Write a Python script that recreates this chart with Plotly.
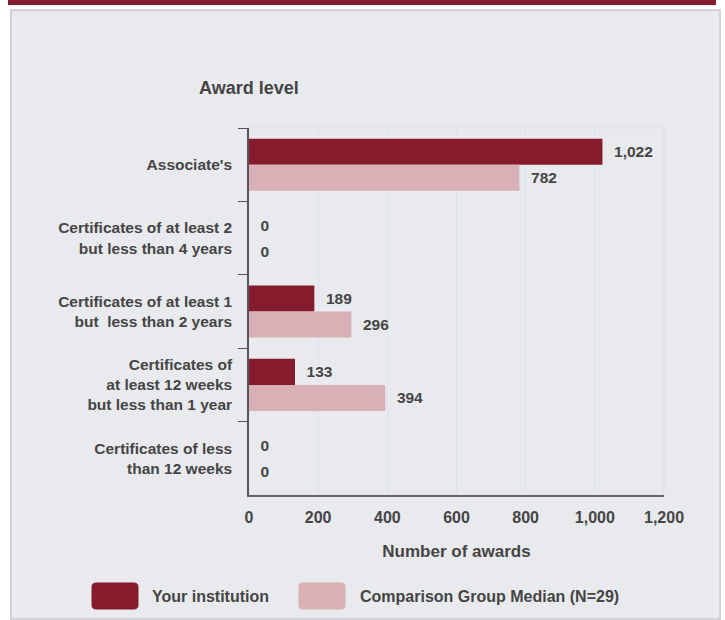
import plotly.graph_objects as go

AWARD_LEVELS = [
    "Associate's",
    "Certificates of at least 2<br>but less than 4 years",
    "Certificates of at least 1<br>but  less than 2 years",
    "Certificates of<br>at least 12 weeks<br>but less than 1 year",
    "Certificates of less<br>than 12 weeks",
]
YOUR_INSTITUTION = [1022, 0, 189, 133, 0]
COMPARISON_MEDIAN = [782, 0, 296, 394, 0]
SERIES_NAMES = ["Your institution", "Comparison Group Median (N=29)"]
X_TICKS = [0, 200, 400, 600, 800, 1000, 1200]

DARK = "#861b2d"
LIGHT = "#d8b0b5"
PANEL = "#e9eaee"
TXT = "#454545"
FONT = "Liberation Sans, Arial, sans-serif"

# pixel layout of the plot area
W, H = 725, 620
L, R, T, B = 249, 61, 128, 125
PW, PH = W - L - R, H - T - B


def px_x(x):
    return (x - L) / PW


def px_y(y):
    return (H - B - y) / PH


def rounded_rect(x0, y0, x1, y1, r=4):
    # path in paper coords for a rounded swatch (pixel inputs)
    X = lambda v: f"{px_x(v):.5f}"
    Y = lambda v: f"{px_y(v):.5f}"
    return (f"M {X(x0 + r)},{Y(y0)} L {X(x1 - r)},{Y(y0)} Q {X(x1)},{Y(y0)} {X(x1)},{Y(y0 + r)} "
            f"L {X(x1)},{Y(y1 - r)} Q {X(x1)},{Y(y1)} {X(x1 - r)},{Y(y1)} "
            f"L {X(x0 + r)},{Y(y1)} Q {X(x0)},{Y(y1)} {X(x0)},{Y(y1 - r)} "
            f"L {X(x0)},{Y(y0 + r)} Q {X(x0)},{Y(y0)} {X(x0 + r)},{Y(y0)} Z")


fig = go.Figure()
for name, vals, col in [(SERIES_NAMES[0], YOUR_INSTITUTION, DARK),
                        (SERIES_NAMES[1], COMPARISON_MEDIAN, LIGHT)]:
    fig.add_bar(
        y=AWARD_LEVELS, x=vals, name=name, orientation="h",
        marker=dict(color=col, line=dict(width=0)),
        texttemplate="\u00a0\u00a0%{x:,}", textposition="outside", cliponaxis=False,
        textfont=dict(size=15.5, color=TXT, family=FONT, weight="bold"),
        showlegend=False,
    )

shapes = [
    # panel background
    dict(type="rect", xref="paper", yref="paper", layer="below",
         x0=px_x(11), x1=px_x(720), y0=px_y(619), y1=px_y(10),
         fillcolor=PANEL, line=dict(color="#d2d3d6", width=2)),
    # top red rule
    dict(type="rect", xref="paper", yref="paper", layer="below",
         x0=px_x(8), x1=px_x(716), y0=px_y(5), y1=px_y(-2),
         fillcolor=DARK, line=dict(width=0)),
    # light plot border
    dict(type="rect", xref="paper", yref="paper", layer="below",
         x0=0, x1=1, y0=0, y1=1, line=dict(color="#dcdfe6", width=1)),
]
annotations = [
    dict(text="Award level", xref="paper", yref="paper", x=px_x(249), y=px_y(88),
         xanchor="center", yanchor="middle", showarrow=False,
         font=dict(size=18, color=TXT, family=FONT, weight="bold")),
]

# legend swatches and labels
for (x0, x1, tx), name, col in zip([(92, 138, 150), (299, 345, 358)], SERIES_NAMES, [DARK, LIGHT]):
    shapes.append(dict(type="path", xref="paper", yref="paper",
                       path=rounded_rect(x0, 583, x1, 609),
                       fillcolor=col, line=dict(color=col, width=1)))
    annotations.append(dict(text=name, xref="paper", yref="paper", x=px_x(tx), y=px_y(596),
                            xanchor="left", yanchor="middle", showarrow=False,
                            font=dict(size=16, color=TXT, family=FONT, weight="bold")))

fig.update_layout(
    width=W, height=H,
    margin=dict(l=L, r=R, t=T, b=B),
    paper_bgcolor="white", plot_bgcolor="#f5f5f5",
    barmode="group", bargap=0.29, bargroupgap=0,
    font=dict(family=FONT, color=TXT),
    shapes=shapes, annotations=annotations,
    xaxis=dict(
        range=[0, 1200], tickvals=X_TICKS, tickformat=",",
        showgrid=True, gridcolor="#dde2ec", gridwidth=1, zeroline=False,
        showline=True, linecolor="#666", linewidth=1.5,
        ticks="", tickfont=dict(size=16, color=TXT, weight="bold"), ticklabelstandoff=7,
        title=dict(text="Number of awards", font=dict(size=17, color=TXT, weight="bold"), standoff=20),
    ),
    yaxis=dict(
        autorange="reversed", tickson="boundaries", ticks="outside", ticklen=9,
        tickcolor="#555", showline=True, linecolor="#555", linewidth=1.5,
        showgrid=False, tickfont=dict(size=15.5, color=TXT, weight="bold"), ticklabelstandoff=12,
    ),
)

fig.write_html("out.html", config={"displayModeBar": False},
               post_script="document.body.style.margin='0';")
